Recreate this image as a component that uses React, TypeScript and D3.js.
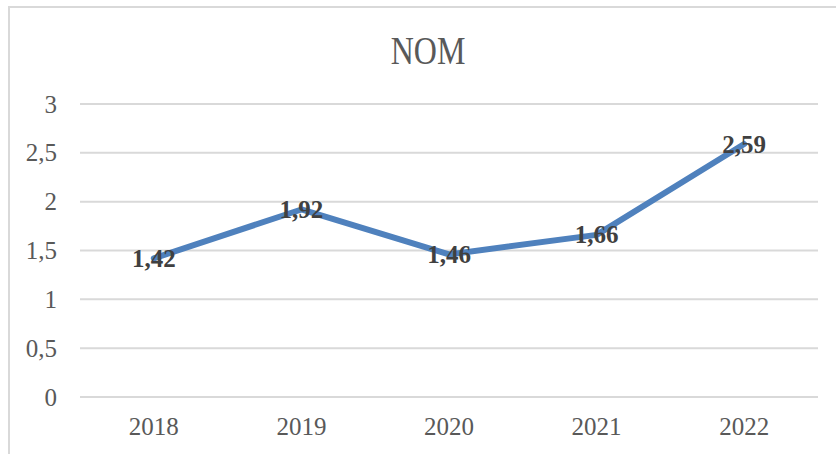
import React, { useEffect, useRef } from "react";
import * as d3 from "d3";

const years = ["2018", "2019", "2020", "2021", "2022"];
const nomValues = [1.42, 1.92, 1.46, 1.66, 2.59];
const yTicks = [0, 0.5, 1, 1.5, 2, 2.5, 3];

const W = 836;
const H = 454;

const App = () => {
  const ref = useRef<SVGSVGElement>(null);

  useEffect(() => {
    const svg = d3.select(ref.current);
    svg.selectAll("*").remove();

    const margin = { top: 104, right: 18, bottom: 57, left: 80 };
    const fmt = (v: number) => String(v).replace(".", ",");

    // chart border (right/bottom run off the picture)
    svg
      .append("rect")
      .attr("x", 9)
      .attr("y", 7)
      .attr("width", W + 10)
      .attr("height", H + 10)
      .attr("fill", "#fff")
      .attr("stroke", "#d9d9d9")
      .attr("stroke-width", 2);

    const x = d3
      .scaleBand()
      .domain(years)
      .range([margin.left, W - margin.right]);
    const y = d3
      .scaleLinear()
      .domain([0, 3])
      .range([H - margin.bottom, margin.top]);

    svg
      .append("text")
      .attr("x", 428)
      .attr("y", 64)
      .attr("text-anchor", "middle")
      .attr("font-family", "'Liberation Serif', serif")
      .attr("font-size", 32)
      .attr("fill", "#595959")
      .attr("transform", "translate(0,64) scale(1,1.22) translate(0,-64)")
      .text("NOM");

    // gridlines
    svg
      .append("g")
      .selectAll("line")
      .data(yTicks)
      .enter()
      .append("line")
      .attr("x1", margin.left)
      .attr("x2", W - margin.right)
      .attr("y1", (d) => y(d))
      .attr("y2", (d) => y(d))
      .attr("stroke", "#d9d9d9")
      .attr("stroke-width", 2);

    // y tick labels
    svg
      .append("g")
      .selectAll("text")
      .data(yTicks)
      .enter()
      .append("text")
      .attr("x", 57)
      .attr("y", (d) => y(d))
      .attr("dy", "0.34em")
      .attr("text-anchor", "end")
      .attr("font-family", "'Liberation Serif', serif")
      .attr("font-size", 25)
      .attr("fill", "#595959")
      .text(fmt);

    // x tick labels
    svg
      .append("g")
      .selectAll("text")
      .data(years)
      .enter()
      .append("text")
      .attr("x", (d) => x(d)! + x.bandwidth() / 2)
      .attr("y", 435)
      .attr("text-anchor", "middle")
      .attr("font-family", "'Liberation Serif', serif")
      .attr("font-size", 25)
      .attr("fill", "#595959")
      .text((d) => d);

    const line = d3
      .line<number>()
      .x((_, i) => x(years[i])! + x.bandwidth() / 2)
      .y((d) => y(d));

    svg
      .append("path")
      .datum(nomValues)
      .attr("d", line)
      .attr("fill", "none")
      .attr("stroke", "#4f81bd")
      .attr("stroke-width", 6)
      .attr("stroke-linejoin", "round")
      .attr("stroke-linecap", "round");

    // data labels centred on the points
    svg
      .append("g")
      .selectAll("text")
      .data(nomValues)
      .enter()
      .append("text")
      .attr("x", (_, i) => x(years[i])! + x.bandwidth() / 2)
      .attr("y", (d) => y(d))
      .attr("dy", "0.34em")
      .attr("text-anchor", "middle")
      .attr("font-family", "'Liberation Serif', serif")
      .attr("font-weight", "bold")
      .attr("font-size", 25)
      .attr("fill", "#404040")
      .text(fmt);
  }, []);

  return (
    <svg
      ref={ref}
      width={W}
      height={H}
      style={{ position: "absolute", left: 0, top: 0, display: "block" }}
    />
  );
};

export default App;
